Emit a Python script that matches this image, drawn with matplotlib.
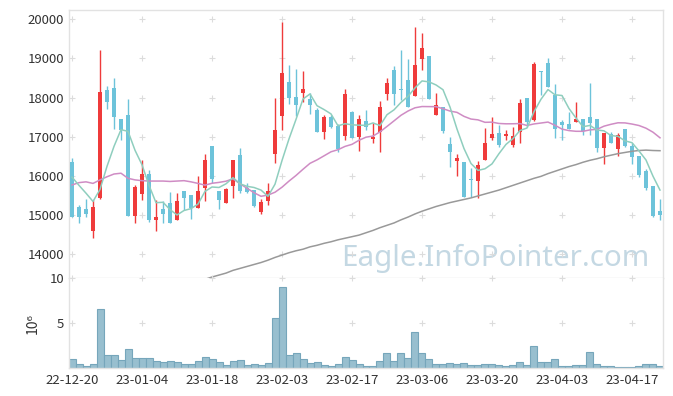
import matplotlib
matplotlib.use("Agg")
import matplotlib.pyplot as plt
import numpy as np

plt.rcParams['font.family'] = ['Noto Sans CJK KR', 'DejaVu Sans']

# ---------------- data ----------------
opens = [16350,15200,15150,14590,15440,18200,18240,17460,17550,14990,
         15550,16050,14880,15160,15320,14880,15620,15510,15190,15700,
         16770,15620,15300,15750,16540,15700,15630,15090,15370,16560,
         17540,18400,18010,18130,17970,17690,17130,17510,17280,17030,
         17630,16990,17400,16940,17130,18080,18710,18210,18450,18030,
         18980,19060,17560,17770,16820,16370,16350,15910,15880,16410,
         16980,17090,17020,16790,17110,18000,17430,18680,18890,18070,
         17370,17330,17390,17450,17500,17450,16720,17060,16680,17200,
         16770,16510,16130,15750,15110]
highs = [16450,15260,15400,15390,19220,18300,18490,17460,17960,15770,
         16400,16150,15390,15350,15600,15560,15620,15510,16000,16560,
         16770,15620,15700,16410,16710,15830,15630,15400,15830,17980,
         19940,18830,18720,18690,18110,17730,17560,17560,17330,18210,
         17660,17560,17690,17350,17920,18510,18800,19220,18980,19800,
         19640,19060,18110,17770,17000,16550,16350,16200,16390,17220,
         17500,17300,17180,17260,17960,18000,18920,18690,19000,18340,
         17430,17640,17880,17450,18370,17450,17090,17110,17090,17200,
         16830,16510,16170,15750,15400]
lows = [14950,14810,14950,14410,15400,17700,17190,16920,14990,14790,
        15390,14830,14600,14790,14790,14880,15130,14900,15190,15350,
        15810,15150,15300,15430,15560,15570,15200,15020,15260,16320,
        17170,17830,17520,17900,17580,17110,16940,17220,16600,16920,
        16960,16650,17170,16850,16600,17940,17810,17940,17770,18030,
        18710,17960,17560,17090,16240,16000,15470,15470,15430,16410,
        16920,16750,16920,16730,16850,17260,17410,18070,18260,16980,
        16920,17200,17390,17050,17050,16620,16300,16850,16510,16750,
        16300,15980,15640,14940,14880]
closes = [14950,14950,15040,15200,18140,17900,17500,17170,14990,15720,
          16050,14880,14950,15040,14790,15360,15450,15190,15620,16410,
          15920,15390,15660,16410,15620,15600,15240,15330,15610,17170,
          18620,18000,17820,18210,17820,17120,17510,17260,16690,18090,
          16980,17460,17240,17000,17750,18370,18080,18190,17770,18830,
          19260,17960,17800,17160,16620,16450,15470,15890,16280,16830,
          17070,16780,17070,17020,17860,17390,18860,18660,18260,17190,
          17300,17200,17450,17150,17350,16720,17090,16850,17050,16770,
          16490,16030,15700,14980,15000]
volumes = [1.00,0.44,0.22,0.44,6.56,1.44,1.44,0.89,2.11,1.11,
           1.11,1.11,0.81,0.70,0.81,0.70,0.44,0.44,0.81,1.26,
           1.04,0.70,0.37,0.81,0.89,0.37,0.44,0.33,0.59,5.56,
           9.04,1.44,1.70,1.00,0.59,0.70,0.37,0.22,0.44,1.26,
           0.89,0.44,0.22,0.22,0.81,1.70,0.81,1.70,1.11,4.00,
           1.70,1.00,0.44,0.44,0.59,0.44,0.59,0.33,0.33,0.44,
           0.44,0.33,0.22,0.33,0.70,0.33,2.44,0.70,0.70,1.00,
           0.22,0.22,0.33,0.33,1.81,0.44,0.22,0.22,0.07,0.07,
           0.07,0.22,0.44,0.44,0.22]  # millions

# moving-average values read at the start of the window (prior data not shown)
ma5_lead = [15970, 15760, 15560, 15350]
ma20_lead = [15770, 15830, 15850, 15810, 15900, 15980, 16050, 16070, 15940, 15900,
             15880, 15870, 15870, 15870, 15860, 15870, 15880, 15850, 15810]
# long moving average (grey), from index 19 on
ma_long_start = 19
ma_long = [13360,13420,13470,13520,13590,13640,13690,13740,13790,13850,
           13920,13980,14040,14090,14130,14190,14230,14280,14320,14370,
           14410,14450,14490,14550,14610,14680,14740,14800,14880,14950,
           15030,15100,15160,15220,15270,15320,15360,15400,15440,15490,
           15540,15590,15640,15700,15760,15820,15880,15940,15990,16060,
           16120,16180,16240,16290,16350,16400,16440,16490,16530,16570,
           16600,16630,16650,16660,16650,16645]

tick_pos = [0, 10, 20, 30, 40, 50, 60, 70, 80]
tick_labels = ['22-12-20', '23-01-04', '23-01-18', '23-02-03', '23-02-17',
               '23-03-06', '23-03-20', '23-04-03', '23-04-17']
price_ticks = [14000, 15000, 16000, 17000, 18000, 19000, 20000]
vol_ticks = [5, 10]

# ---------------- derived ----------------
o = np.array(opens, float); h = np.array(highs, float)
l = np.array(lows, float); c = np.array(closes, float)
n = len(c)
x = np.arange(n)

def rolling(vals, w, lead):
    out = list(lead)
    for i in range(len(lead), len(vals)):
        out.append(np.mean(vals[i - w + 1:i + 1]))
    return np.array(out)

ma5 = rolling(c, 5, ma5_lead)
ma20 = rolling(c, 20, ma20_lead)

RED = '#ef3b3b'
BLUE = '#6dc3da'

fig = plt.figure(figsize=(6.73, 3.96), dpi=100)
ax1 = fig.add_axes([69/673, 1-278/396, (663-69)/673, (278-10)/396])
ax2 = fig.add_axes([69/673, 1-368/396, (663-69)/673, (368-278)/396], sharex=ax1)

for ax in (ax1, ax2):
    for s in ax.spines.values():
        s.set_color('#e2e2e2')
        s.set_linewidth(1.0)
    ax.tick_params(length=0, colors='#333333', labelsize=9.5)

# watermark
ax1.text(0.977, 0.045, 'Eagle.InfoPointer.com', transform=ax1.transAxes,
         ha='right', va='baseline', fontsize=21.3, color='#c4d8e3',
         family=['Noto Sans', 'DejaVu Sans'], zorder=0)

# candles
up = c >= o
cols = np.where(up, RED, BLUE)
ax1.vlines(x, l, h, colors=cols, linewidth=1.0, zorder=2)
body_bot = np.minimum(o, c)
body_h = np.maximum(np.abs(c - o), 25)
ax1.bar(x, body_h, bottom=body_bot, width=0.66, color=cols, linewidth=0, zorder=3)

# moving averages
ax1.plot(x, ma20, color='#cf8cc4', lw=1.1, zorder=4)
ax1.plot(x[ma_long_start:], ma_long, color='#999999', lw=1.1, zorder=4)
ax1.plot(x, ma5, color='#8fceBE'.lower(), lw=1.1, zorder=5)

ax1.set_xlim(-0.43, 84.43)
ax1.set_ylim(13395, 20237)
ax1.set_yticks(price_ticks)
ax1.set_yticklabels([str(t) for t in price_ticks])
ax1.tick_params(axis='x', labelbottom=False)

# grid crosses
gx, gy = np.meshgrid(tick_pos, price_ticks)
ax1.scatter(gx.ravel(), gy.ravel(), marker='+', s=14, color='#dcdcdc',
            linewidths=0.8, zorder=1)

# volume
ax2.bar(x, volumes, width=1.0, color='#98bfcf', edgecolor='#76a6bb',
        linewidth=0.8, zorder=2)
ax2.set_ylim(0, 10)
ax2.set_yticks(vol_ticks)
ax2.set_yticklabels([str(t) for t in vol_ticks])
ax2.set_xticks(tick_pos)
ax2.set_xticklabels(tick_labels)
ax2.tick_params(axis='x', pad=4)
ax2.spines['top'].set_visible(False)
vx, vy = np.meshgrid(tick_pos, vol_ticks)
ax2.scatter(vx.ravel(), vy.ravel(), marker='+', s=14, color='#dcdcdc',
            linewidths=0.8, zorder=1, clip_on=False)
fig.text(33/673, 1-323/396, '10⁶', rotation=90, ha='center', va='center',
         fontsize=10, color='#333333')

fig.savefig('out.png', dpi=100)
